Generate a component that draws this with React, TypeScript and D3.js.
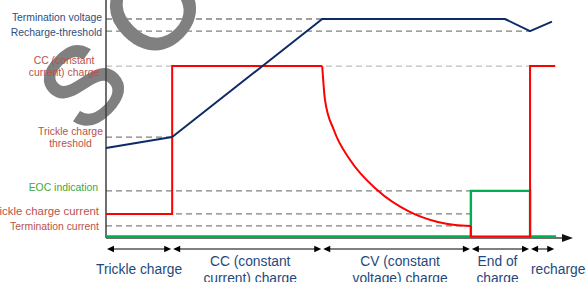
import React from "react";
import * as d3 from "d3";

// ---- data (abstract units: time 0..100, level 0..100) ----
const phaseBounds = [0, 14.2, 46.4, 78.3, 91.0, 96.4];
const phaseLabels = [
  ["Trickle charge"],
  ["CC (constant", "current) charge"],
  ["CV (constant", "voltage) charge"],
  ["End of", "charge"],
  ["recharge"],
];

const levelNames = [
  "Termination voltage",
  "Recharge-threshold",
  "CC (constant current) charge",
  "Trickle charge threshold",
  "EOC indication",
  "Trickle charge current",
  "Termination current",
];
const levelValues = [100, 94.5, 78.5, 46.1, 21.5, 11.0, 5.5];
const levelEnds = [46.4, 91.0, 91.0, 14.2, 78.3, 78.3, 78.3];

const voltageT = [0, 14.2, 46.4, 85.6, 91.0, 95.7];
const voltageV = [41.1, 46.1, 100, 100, 94.5, 98.8];

const currentT = [0, 14.2, 14.2, 46.4];
const currentV = [11.0, 11.0, 78.5, 78.5];
const decayT = [46.4, 47.0, 48.9, 52.4, 58.2, 65.2, 71.2, 74.9, 78.3];
const decayV = [78.5, 63.0, 49.3, 35.6, 21.9, 11.9, 7.3, 5.9, 5.5];
const current2T = [78.3, 78.3, 91.0, 91.0, 96.4];
const current2V = [5.5, 0.7, 0.7, 78.5, 78.5];

const eocT = [0, 78.3, 78.3, 91.0, 91.0, 96.6];
const eocV = [0.7, 0.7, 21.5, 21.5, 0.7, 0.7];

const watermarkLetters = ["S", "O"];

const W = 587;
const H = 282;

const BLUE_TXT = "#2E4E80";
const RED_TXT = "#B9524C";
const GREEN_TXT = "#3CA845";
const NAVY = "#0C2B66";

export default function App() {
  const x = d3.scaleLinear().domain([0, 100]).range([106, 572]);
  const y = d3.scaleLinear().domain([0, 100]).range([238, 19]);
  const lin = d3
    .line<[number, number]>()
    .x((d) => x(d[0]))
    .y((d) => y(d[1]));
  const smooth = d3
    .line<[number, number]>()
    .x((d) => x(d[0]))
    .y((d) => y(d[1]))
    .curve(d3.curveMonotoneX);
  const zip = (a: number[], b: number[]) =>
    a.map((t, i) => [t, b[i]] as [number, number]);

  const font = "'Liberation Sans', Arial, sans-serif";
  const arrowY = 249;
  const head = (tip: number, dir: number) =>
    `${tip},${arrowY} ${tip - dir * 7},${arrowY - 3.2} ${tip - dir * 7},${arrowY + 3.2}`;

  // watermark glyph placement: [cx, cy, size]
  const wmLayout: [number, number, number][] = [
    [82, 84, 108],
    [152, 6, 116],
  ];

  // left label layout: [anchor, x, offsets of baselines relative to level, color, size]
  const leftLayout: [string, number, number[], string, number][] = [
    ["end", 102, [1.8], BLUE_TXT, 10.4],
    ["end", 102, [4.5], BLUE_TXT, 10.4],
    ["middle", 64, [-1.6, 9.8], RED_TXT, 10.4],
    ["middle", 70.5, [-2.5, 10], RED_TXT, 10.4],
    ["end", 98, [0.5], GREEN_TXT, 10.4],
    ["end", 99, [1.5], RED_TXT, 11.4],
    ["end", 99, [4.5], RED_TXT, 10.4],
  ];
  const leftLines = [
    ["Termination voltage"],
    ["Recharge-threshold"],
    ["CC (constant", "current) charge"],
    ["Trickle charge", "threshold"],
    ["EOC indication"],
    ["Trickle charge current"],
    ["Termination current"],
  ];
  const phaseOffsets = [0, 3, 3.5, -3, 15.5];

  return (
    <div style={{ position: "absolute", left: 0, top: 0 }}>
      <svg width={W} height={H} style={{ display: "block", background: "#fff" }}>
        {/* watermark */}
        <g fill="#808080" stroke="#808080" strokeWidth={2.6} fontFamily={font}>
          {watermarkLetters.map((ch, i) => {
            const [cx, cy, fs] = wmLayout[i];
            return (
              <text
                key={"wm" + i}
                x={cx}
                y={cy + 0.36 * fs}
                fontSize={fs}
                textAnchor="middle"
                transform={`rotate(-45 ${cx} ${cy})`}
              >
                {ch}
              </text>
            );
          })}
        </g>

        {/* dashed reference levels */}
        {levelValues.map((v, i) => (
          <line
            key={levelNames[i]}
            x1={x(0)}
            x2={x(levelEnds[i])}
            y1={y(v)}
            y2={y(v)}
            stroke={i === 2 ? "#BFBFBF" : "#808080"}
            strokeWidth={1.3}
            strokeDasharray="6,4"
          />
        ))}

        {/* axes */}
        <line x1={x(0)} x2={x(0)} y1={0} y2={y(0)} stroke="#404040" strokeWidth={1.5} />
        <line x1={x(0)} x2={x(100) - 7} y1={y(0)} y2={y(0)} stroke="#404040" strokeWidth={1.5} />
        <polygon
          points={`${x(100) + 1},${y(0)} ${x(100) - 10},${y(0) - 4} ${x(100) - 10},${y(0) + 4}`}
          fill="#111"
        />

        {/* series */}
        <path d={lin(zip(eocT, eocV)) || ""} fill="none" stroke="#00B050" strokeWidth={2.4} />
        <path d={lin(zip(currentT, currentV)) || ""} fill="none" stroke="#FF0000" strokeWidth={2} />
        <path d={smooth(zip(decayT, decayV)) || ""} fill="none" stroke="#FF0000" strokeWidth={2} />
        <path d={lin(zip(current2T, current2V)) || ""} fill="none" stroke="#FF0000" strokeWidth={2} />
        <path
          d={lin(zip(voltageT, voltageV)) || ""}
          fill="none"
          stroke={NAVY}
          strokeWidth={2}
          strokeLinejoin="round"
        />

        {/* left labels */}
        <g fontFamily={font}>
          {leftLines.map((lines, i) => {
            const [anchor, lx, offs, color, fs] = leftLayout[i];
            return lines.map((s, j) => (
              <text
                key={i + "-" + j}
                x={lx}
                y={y(levelValues[i]) + offs[j]}
                textAnchor={anchor}
                fill={color}
                fontSize={fs}
              >
                {s}
              </text>
            ));
          })}
        </g>

        {/* phase arrows */}
        {phaseLabels.map((_, i) => {
          const a = x(phaseBounds[i]) + 1;
          const b = x(phaseBounds[i + 1]) - 1;
          return (
            <g key={"arr" + i}>
              <line x1={a + 3} x2={b - 3} y1={arrowY} y2={arrowY} stroke="#000" strokeWidth={1} />
              <polygon points={head(a, -1)} fill="#000" />
              <polygon points={head(b, 1)} fill="#000" />
            </g>
          );
        })}

        {/* phase labels */}
        <g fontFamily={font} fontSize={13.8} fill="#1F497D" textAnchor="middle">
          {phaseLabels.map((lines, i) => {
            const cx = (x(phaseBounds[i]) + x(phaseBounds[i + 1])) / 2 + phaseOffsets[i];
            return lines.map((s, j) => (
              <text
                key={"pl" + i + "-" + j}
                x={cx}
                y={lines.length === 1 ? 273.5 : 266 + j * 17}
              >
                {s}
              </text>
            ));
          })}
        </g>
      </svg>
    </div>
  );
}
